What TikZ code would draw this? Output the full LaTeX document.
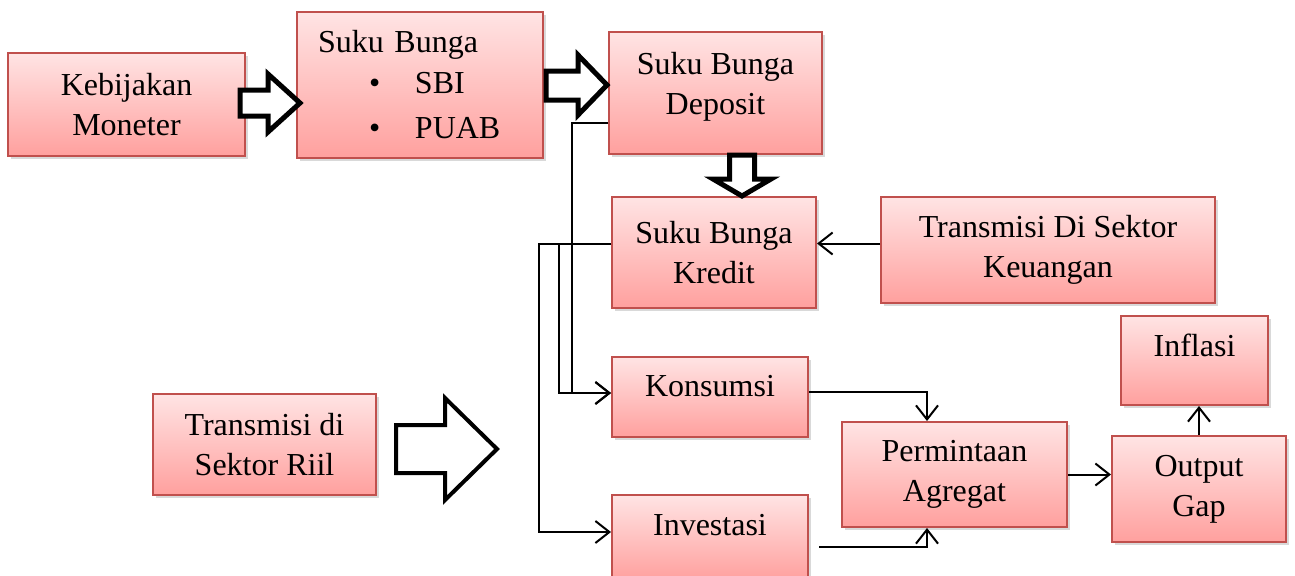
\documentclass[tikz,border=0pt]{standalone}
\usepackage{fontspec}
\setmainfont{Liberation Serif}
\usetikzlibrary{arrows.meta,shadows}
\definecolor{boxtop}{RGB}{255,228,228}
\definecolor{boxbottom}{RGB}{255,160,158}
\definecolor{boxline}{RGB}{192,80,77}
\begin{document}
\begin{tikzpicture}[x=.5pt,y=-.5pt,
    node font=\fontsize{16}{20}\selectfont,
    box/.style={draw=boxline,line width=1pt,top color=boxtop,bottom color=boxbottom,drop shadow={shadow xshift=1.5pt,shadow yshift=-1.5pt,opacity=.3},inner sep=0pt,align=center},
    lifted/.style={text height=11pt,text depth=#1},
    conn/.style={line width=1pt,-{Straight Barb[length=7pt,width=11pt]}},
    fat/.style={draw=black,fill=white,line width=2.5pt,line join=miter}]
    \useasboundingbox (0,0) rectangle (1295,575);
    \node[box,minimum width=118.5pt,minimum height=51.5pt] (keb) at (126.5,104.5) {Kebijakan\\Moneter};
    \node[box,minimum width=123pt,minimum height=73pt,text width=102pt,align=left] (sbg) at (420,85) {Suku Bunga\\[.5pt]\makebox[48.5pt][l]{\hspace{25.5pt}\textbullet}SBI\\[2.5pt]\makebox[48.5pt][l]{\hspace{25.5pt}\textbullet}PUAB};
    \node[box,minimum width=106.5pt,minimum height=61pt,text depth=9.5pt] (dep) at (715.5,93) {Suku Bunga\\Deposit};
    \node[box,minimum width=102pt,minimum height=55.5pt] (kre) at (714,252.5) {Suku Bunga\\Kredit};
    \node[box,minimum width=167pt,minimum height=53pt] (keu) at (1048,250) {Transmisi Di Sektor\\Keuangan};
    \node[box,minimum width=98pt,minimum height=40pt,lifted=11.5pt] (kons) at (710,397) {Konsumsi};
    \node[box,minimum width=98pt,minimum height=42.5pt,lifted=13pt] (inv) at (710,537.5) {Investasi};
    \node[box,minimum width=112.5pt,minimum height=52.5pt] (perm) at (954.5,474.5) {Permintaan\\Agregat};
    \node[box,minimum width=87pt,minimum height=53pt] (out) at (1199,489) {Output\\Gap};
    \node[box,minimum width=73.5pt,minimum height=44.5pt,lifted=15pt] (inf) at (1194.5,360.5) {Inflasi};
    \node[box,minimum width=111.5pt,minimum height=50.5pt] (riil) at (264.5,444.5) {Transmisi di\\Sektor Riil};
    \draw[fat] (240,90) -- (268,90) -- (268,74) -- (300,103) -- (268,132) -- (268,116) -- (240,116) -- cycle;
    \draw[fat] (546,71) -- (578,71) -- (578,55) -- (607,85) -- (578,115) -- (578,100) -- (546,100) -- cycle;
    \draw[fat] (729.5,155) -- (729.5,179) -- (713,179) -- (742,196) -- (771,179) -- (754.5,179) -- (754.5,155) -- cycle;
    \draw[fat,line width=2pt] (396,425) -- (445,425) -- (445,398) -- (497,449) -- (445,500) -- (445,473) -- (396,473) -- cycle;
    \draw[conn] ([yshift=-15pt]dep.west) -- ++(-36,0) |- ([yshift=2pt]kons.west);
    \draw[conn] ([yshift=4.25pt]kre.west) -- ++(-72,0) |- ([yshift=2.75pt]inv.west);
    \draw[conn] ([yshift=4.25pt]kre.west) ++(-52,0) |- ([yshift=2pt]kons.west);
    \draw[conn] ([yshift=3.25pt]keu.west) -- ([yshift=4.5pt]kre.east);
    \draw[conn] ([yshift=2.5pt]kons.east) -| ([xshift=-13.75pt]perm.north);
    \draw[conn] ([xshift=5pt,yshift=-4.75pt]inv.east) -| ([xshift=-13.75pt]perm.south);
    \draw[conn] (perm.east) -- (perm.east -| out.west);
    \draw[conn] (out.north) -- (out.north |- inf.south);
\end{tikzpicture}
\end{document}
